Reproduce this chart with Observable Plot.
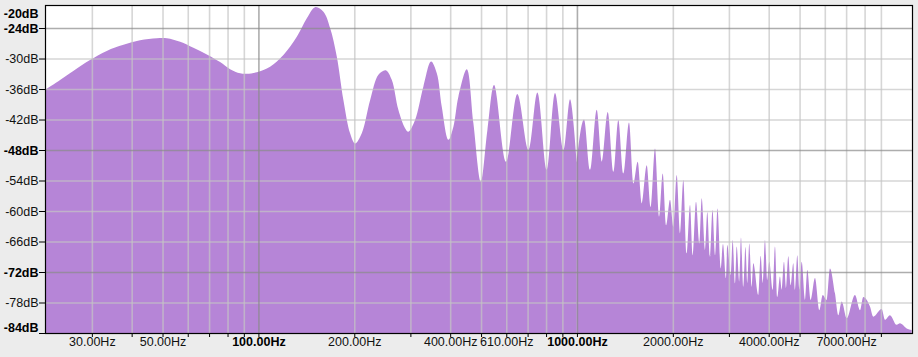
<!DOCTYPE html>
<html><head><meta charset="utf-8">
<script src="https://cdn.jsdelivr.net/npm/d3@7"></script>
<script src="https://cdn.jsdelivr.net/npm/@observablehq/plot@0.6"></script>
<style>
html,body{margin:0;padding:0;background:#ececec;}
svg{display:block;}
</style>
</head><body><div id="chart"></div>
<script>
// Spectrum values (frequency in Hz, level in dB)
const freqHz = [21.4, 23.9, 26.3, 29.6, 33.4, 37.7, 42.5, 48.0, 51.6, 56.8,
  62.5, 68.9, 75.8, 81.5, 87.6, 91.9, 98.9, 108.8, 119.8, 132.0,
  141.9, 150.7, 160.0, 167.9, 176.2, 184.9, 194.0, 201.2, 211.1, 224.2,
  238.1, 251.1, 262.2, 275.0, 288.7, 295.6, 310.3, 329.6, 348.4, 363.1,
  376.4, 394.8, 409.4, 424.4, 451.0, 473.0, 499.0, 523.4, 549.4, 599.0,
  650.0, 703.9, 751.1, 804.0, 853.7, 906.3, 951.3, 998.6, 1052.6, 1099.2,
  1153.7, 1196.2, 1249.4, 1301.0, 1348.6, 1398.2, 1457.0, 1503.1, 1551.6, 1597.2,
  1656.0, 1704.4, 1758.2, 1810.0, 1859.0, 1904.0, 1959.7, 2007.2, 2056.8, 2106.6,
  2157.7, 2211.0, 2264.6, 2309.3, 2364.8, 2422.0, 2464.3, 2524.0, 2566.0, 2616.4,
  2663.9, 2712.7, 2762.0, 2826.3, 2874.2, 2937.1, 2964.9, 3038.2, 3082.6, 3134.1,
  3173.3, 3233.0, 3273.4, 3328.2, 3381.5, 3425.4, 3475.4, 3536.7, 3577.6, 3709.3,
  3774.0, 3829.1, 3893.1, 3958.2, 4016.0, 4116.2, 4185.0, 4255.0, 4339.1, 4392.4,
  4466.8, 4532.1, 4607.9, 4689.0, 4777.4, 4837.2, 4918.0, 4990.0, 5077.0, 5199.0,
  5287.0, 5418.0, 5589.0, 5766.0, 5910.0, 6081.0, 6229.0, 6458.0, 6614.0, 6779.0,
  7029.0, 7463.0, 7738.0, 7924.0, 8318.0, 8518.0, 9050.0, 9268.0, 9609.0, 10087.0,
  10330.0, 10844.0, 11240.0];
const levelDb = [-36.2, -34.2, -32.4, -30.3, -28.5, -27.3, -26.4, -26.0, -26.0, -26.7,
  -27.9, -29.2, -30.7, -32.1, -32.9, -33.0, -32.7, -31.6, -29.3, -25.7,
  -22.1, -19.9, -20.8, -24.0, -29.6, -38.2, -44.7, -46.7, -44.7, -38.2,
  -33.2, -32.3, -34.2, -40.1, -43.7, -44.4, -42.1, -35.5, -30.6, -32.9,
  -39.5, -46.0, -43.4, -37.5, -32.1, -42.7, -54.2, -44.1, -35.2, -50.3,
  -37.0, -48.0, -36.7, -51.9, -36.8, -48.0, -38.0, -50.3, -42.0, -51.9,
  -40.1, -50.3, -40.5, -52.3, -42.1, -52.6, -42.6, -54.6, -50.3, -58.5,
  -51.0, -59.2, -47.7, -61.1, -52.6, -62.8, -57.8, -63.1, -52.9, -64.4,
  -53.9, -68.3, -58.8, -68.7, -58.2, -66.4, -57.5, -67.7, -60.2, -69.0,
  -59.8, -68.7, -59.5, -71.3, -66.5, -73.2, -66.7, -72.6, -65.7, -74.2,
  -67.0, -73.9, -65.2, -74.9, -67.1, -74.2, -66.4, -74.9, -70.3, -76.5,
  -68.8, -74.2, -65.7, -73.6, -70.0, -75.5, -67.0, -76.9, -72.9, -75.5,
  -70.0, -75.2, -68.9, -74.6, -70.3, -75.5, -68.7, -75.5, -70.0, -77.5,
  -71.6, -77.5, -73.2, -79.5, -76.5, -77.5, -71.3, -76.2, -80.5, -77.8,
  -81.1, -76.5, -79.5, -76.9, -78.8, -80.8, -79.3, -81.4, -80.5, -82.4,
  -82.1, -83.1, -83.4];

// Axis ticks and labels
const xTickValues = [30,40,50,60,70,80,90,100,200,300,400,500,600,700,800,900,1000,2000,3000,4000,5000,6000,7000,8000,9000];
const xMajorGrid = [100, 1000];
const xLabelValues = [30, 50, 100, 200, 400, 600, 1000, 2000, 4000, 7000];
const xLabelText = ["30.00Hz","50.00Hz","100.00Hz","200.00Hz","400.00Hz","610.00Hz","1000.00Hz","2000.00Hz","4000.00Hz","7000.00Hz"];
const xBoldLabels = ["100.00Hz", "1000.00Hz"];
const yTickValues = [-24,-30,-36,-42,-48,-54,-60,-66,-72,-78,-84];
const yMajorGrid = [-24, -48, -72];
const yLabelValues = [-20,-24,-30,-36,-42,-48,-54,-60,-66,-72,-78,-84];
const yBoldLabels = [-20, -24, -48, -72, -84];
const xDomain = [21.38, 11270];
const yDomain = [-84, -19.47];
const floorDb = -84;
const smoothUpToHz = 1000; // smooth (rounded) lobes below this, sharp spikes above

const spectrum = freqHz.map((f, i) => ({f, db: levelDb[i]}));
const lowPart = spectrum.filter(d => d.f <= smoothUpToHz);
const highPart = spectrum.filter(d => d.f >= lowPart[lowPart.length - 1].f);
const xMinor = xTickValues.filter(v => !xMajorGrid.includes(v));
const yMinor = yTickValues.filter(v => !yMajorGrid.includes(v) && v !== floorDb);
const xLabels = xLabelValues.map((v, i) => ({v, t: xLabelText[i], bold: xBoldLabels.includes(xLabelText[i])}));
const yLabels = yLabelValues.map(v => ({v, t: v + "dB", bold: yBoldLabels.includes(v)}));
const yTop = yLabels.filter(d => d.v === yLabelValues[0]);
const yBottom = yLabels.filter(d => d.v === floorDb);
const yMid = yLabels.filter(d => d.v !== yLabelValues[0] && d.v !== floorDb);

const font = "'Liberation Sans', Arial, Helvetica, sans-serif";
const fs = 12.5;
const purple = "#b685d7";

const chart = Plot.plot({
  width: 918, height: 357,
  marginLeft: 45, marginRight: 6, marginTop: 5, marginBottom: 24,
  style: {background: "#ececec", fontFamily: font, fontSize: fs + "px", color: "#111"},
  x: {type: "log", domain: xDomain},
  y: {domain: yDomain},
  marks: [
    Plot.frame({fill: "white", stroke: null}),
    Plot.areaY(lowPart, {x: "f", y1: () => floorDb, y2: "db", fill: purple, curve: "catmull-rom", clip: true}),
    Plot.areaY(highPart, {x: "f", y1: () => floorDb, y2: "db", fill: purple, curve: "monotone-x", clip: true}),
    Plot.ruleX(xMinor, {stroke: "#c4c4c4", strokeOpacity: 0.7, strokeWidth: 1.6}),
    Plot.ruleY(yMinor, {stroke: "#c4c4c4", strokeOpacity: 0.7, strokeWidth: 1.6}),
    Plot.ruleX(xMajorGrid, {stroke: "#8a8a8a", strokeOpacity: 0.7, strokeWidth: 1.6}),
    Plot.ruleY(yMajorGrid, {stroke: "#8a8a8a", strokeOpacity: 0.7, strokeWidth: 1.6}),
    Plot.axisX({ticks: xTickValues, tickSize: 4, tickFormat: () => "", label: null, stroke: "#000"}),
    Plot.axisY({ticks: yTickValues, tickSize: 6, tickFormat: () => "", label: null, stroke: "#000"}),
    Plot.text(xLabels.filter(d => !d.bold), {x: "v", text: "t", frameAnchor: "bottom", dy: 12, fill: "#111", fontSize: fs}),
    Plot.text(xLabels.filter(d => d.bold), {x: "v", text: "t", frameAnchor: "bottom", dy: 12, fill: "#000", fontSize: fs, fontWeight: "bold"}),
    Plot.text(yMid.filter(d => !d.bold), {y: "v", text: "t", frameAnchor: "left", textAnchor: "end", dx: -7, fill: "#111", fontSize: fs}),
    Plot.text(yMid.filter(d => d.bold), {y: "v", text: "t", frameAnchor: "left", textAnchor: "end", dx: -7, fill: "#000", fontSize: fs, fontWeight: "bold"}),
    Plot.text(yTop, {y: "v", text: "t", frameAnchor: "left", textAnchor: "end", dx: -7, dy: 5.5, fill: "#000", fontSize: fs, fontWeight: "bold"}),
    Plot.text(yBottom, {y: "v", text: "t", frameAnchor: "left", textAnchor: "end", dx: -7, dy: -6, fill: "#000", fontSize: fs, fontWeight: "bold"}),
    Plot.frame({stroke: "#000", strokeWidth: 1.2})
  ]
});
document.getElementById("chart").appendChild(chart);
</script>
</body></html>
